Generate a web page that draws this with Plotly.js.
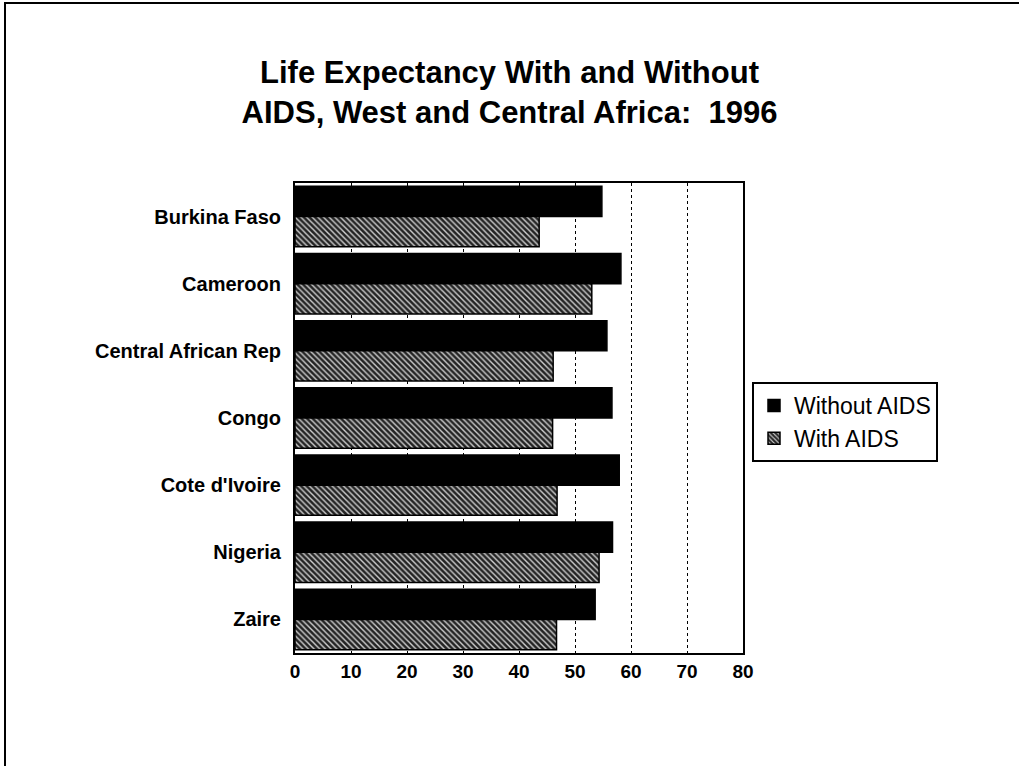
<!DOCTYPE html>
<html>
<head>
<meta charset="utf-8">
<script src="https://cdn.plot.ly/plotly-3.0.1.min.js"></script>
<style>
  html, body { margin: 0; padding: 0; background: #fff; overflow: hidden; }
  #wrap { position: relative; width: 1019px; height: 766px; overflow: hidden; }
  #chart { width: 1019px; height: 766px; }
  /* page frame: only the top and left edges show */
  #frame { position: absolute; left: 4px; top: 2px; width: 1100px; height: 900px;
           border-top: 2px solid #000; border-left: 2px solid #000; pointer-events: none; }
</style>
</head>
<body>
<div id="wrap">
  <div id="chart"></div>
  <div id="frame"></div>
</div>
<script>
// Life expectancy at birth (years), 1996
const countries = ["Burkina Faso", "Cameroon", "Central African Rep", "Congo", "Cote d'Ivoire", "Nigeria", "Zaire"];
const withoutAids = [54.8, 58.2, 55.7, 56.6, 57.9, 56.7, 53.6];
const withAids = [43.6, 53.0, 46.1, 46.0, 46.8, 54.3, 46.7];
const xTicks = [0, 10, 20, 30, 40, 50, 60, 70, 80];

const FONT = "Liberation Sans, Arial, Helvetica, sans-serif";

// Plot area in pixels: left 295, right 743, top 183, bottom 653
const W = 1019, H = 766;
const L = 295, R = 743, T = 183, B = 653;
const px = v => (v - L) / (R - L);
const py = v => (B - v) / (B - T);

const traces = [
  {
    type: "bar",
    orientation: "h",
    name: "Without AIDS",
    y: countries,
    x: withoutAids,
    marker: { color: "#000000", line: { color: "#000000", width: 1.5 } },
    hoverinfo: "x+name"
  },
  {
    type: "bar",
    orientation: "h",
    name: "With AIDS",
    y: countries,
    x: withAids,
    marker: {
      color: "#2a2a2a",
      line: { color: "#000000", width: 1.5 },
      pattern: { shape: "\\", bgcolor: "#242424", fgcolor: "#cfcfcf", size: 4, solidity: 0.35 }
    },
    hoverinfo: "x+name"
  }
];

const layout = {
  width: W,
  height: H,
  paper_bgcolor: "#ffffff",
  plot_bgcolor: "#ffffff",
  margin: { l: L, r: W - R, t: T, b: H - B, pad: 0 },
  font: { family: FONT, color: "#000000" },
  title: {
    text: "Life Expectancy With and Without<br>AIDS, West and Central Africa:  1996",
    font: { family: FONT, size: 31, color: "#000000", weight: "bold" },
    x: 0.5, xref: "container", xanchor: "center",
    y: 1 - 83 / H, yref: "container", yanchor: "middle"
  },
  barmode: "group",
  bargap: 0.1,
  bargroupgap: 0,
  xaxis: {
    range: [0, 80],
    tickvals: xTicks,
    ticktext: xTicks.map(String),
    tickfont: { family: FONT, size: 19, color: "#000000", weight: "bold" },
    showgrid: true,
    gridcolor: "#000000",
    gridwidth: 1,
    griddash: "dot",
    zeroline: false,
    showline: true,
    linecolor: "#000000",
    linewidth: 2,
    mirror: true,
    ticks: "",
    fixedrange: true
  },
  yaxis: {
    autorange: "reversed",
    tickfont: { family: FONT, size: 20, color: "#000000", weight: "bold" },
    showgrid: false,
    showline: true,
    linecolor: "#000000",
    linewidth: 2,
    mirror: true,
    ticks: "",
    ticklabelstandoff: 8,
    fixedrange: true
  },
  legend: {
    x: px(752), xanchor: "left",
    y: py(382), yanchor: "top",
    bgcolor: "#ffffff",
    bordercolor: "#000000",
    borderwidth: 2,
    font: { family: FONT, size: 23, color: "#000000" },
    itemwidth: 30,
    tracegroupgap: 0
  },
  showlegend: true
};

Plotly.newPlot("chart", traces, layout, { displayModeBar: false, staticPlot: true });
</script>
</body>
</html>
